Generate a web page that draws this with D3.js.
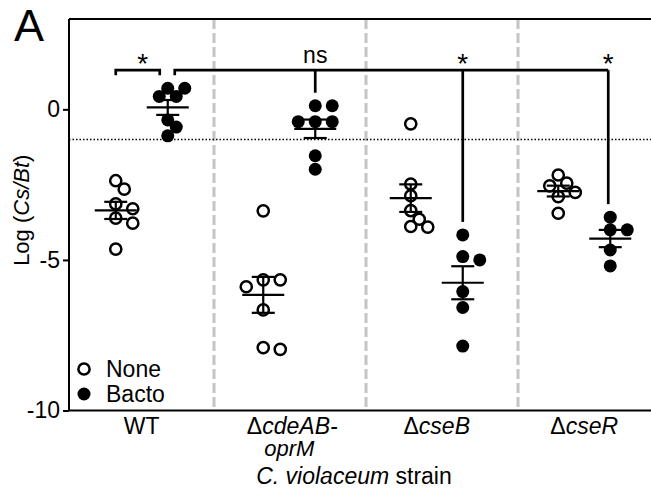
<!DOCTYPE html>
<html><head><meta charset="utf-8">
<script src="https://cdn.jsdelivr.net/npm/d3@7"></script>
<style>body{margin:0;background:#fff} text{font-family:"Liberation Sans",Arial,sans-serif;fill:#000}</style>
</head><body><svg id="c" width="651" height="495"></svg>
<script>
const groups = ["WT","ΔcdeAB-oprM","ΔcseB","ΔcseR"];
const treatments = ["None","Bacto"];
const noneValues = [
  [-2.37,-2.65,-3.14,-3.30,-3.61,-3.78,-4.64],
  [-3.37,-5.66,-5.66,-5.89,-6.66,-7.97,-7.91],
  [-0.48,-2.48,-2.87,-3.36,-3.65,-3.89,-3.91],
  [-2.18,-2.45,-2.54,-2.76,-2.90,-3.45]
];
const bactoValues = [
  [0.70,0.70,0.43,0.43,-0.35,-0.59,-0.88],
  [0.12,0.12,-0.41,-0.41,-0.41,-1.54,-1.99],
  [-4.17,-4.89,-5.00,-6.05,-6.58,-7.86],
  [-3.58,-4.00,-4.00,-4.67,-5.20]
];
const yTicks = [0,-5,-10];
const yDomain = [-10,3];
const detectionLimit = -1;
const bracketLevel = 1.3;
const sigLabels = ["*","ns","*","*"]; // WT None vs Bacto; WT Bacto vs each mutant Bacto

const svg = d3.select("#c");
const W = 651, H = 495;
const mLeft = 69, mTop = 19, mBottom = 410.5;
const y = d3.scaleLinear().domain(yDomain).range([mBottom, mTop]);
const x = d3.scaleBand().domain(groups).range([68, 658]).padding(0);
const sub = d3.scalePoint().domain(treatments).range([-26, 26]);
const cx = (g,t) => x(g) + x.bandwidth()/2 + sub(t);
const sepX = d3.scaleLinear().domain([0,4]).range([62,670]);
const rOpen = 5.6, rFill = 6.5, openSW = 2.5;

// separators
svg.append("g").selectAll("line").data(d3.range(1,groups.length)).join("line")
  .attr("x1", d=>sepX(d)).attr("x2", d=>sepX(d)).attr("y1", mTop).attr("y2", mBottom)
  .attr("stroke","#c4c4c4").attr("stroke-width",3).attr("stroke-dasharray","10,4");

// detection limit
svg.append("line").attr("x1",mLeft).attr("x2",W).attr("y1",y(detectionLimit)).attr("y2",y(detectionLimit))
  .attr("stroke","#000").attr("stroke-width",1.5).attr("stroke-dasharray","1.5,2");

// frame
svg.append("line").attr("x1",mLeft).attr("x2",W).attr("y1",mTop).attr("y2",mTop).attr("stroke","#000").attr("stroke-width",2);
svg.append("line").attr("x1",mLeft).attr("x2",W).attr("y1",mBottom).attr("y2",mBottom).attr("stroke","#000").attr("stroke-width",2);

// y axis
const ya = svg.append("g").attr("transform",`translate(${mLeft},0)`)
  .call(d3.axisLeft(y).tickValues(yTicks).tickSize(6).tickPadding(3).tickFormat(d=>String(d)));
ya.select(".domain").attr("stroke-width",2).attr("d",`M0,${mTop}V${mBottom}`);
ya.selectAll(".tick line").attr("stroke-width",2);
ya.selectAll("text").style("font-size","23px").style("font-family","Liberation Sans, Arial, sans-serif");

// swarm
function swarm(vals, c) {
  const pts = vals.map(v=>({v, y:y(v)})).sort((a,b)=>a.y-b.y);
  const placed = [];
  const D = 11, step = 8.5;
  pts.forEach(p=>{
    for (let k=0;k<30;k++){
      const off = k===0?0:(k%2?1:-1)*Math.ceil(k/2)*step;
      if (placed.every(q=>Math.hypot(q.x-(c+off), q.y-p.y)>=D)) { p.x=c+off; break; }
    }
    placed.push(p);
  });
  return placed;
}

const series = [];
groups.forEach((g,i)=>{
  series.push({g, t:"None", vals:noneValues[i]});
  series.push({g, t:"Bacto", vals:bactoValues[i]});
});

series.forEach(s=>{
  const c = cx(s.g,s.t);
  const m = d3.mean(s.vals);
  const sem = d3.deviation(s.vals)/Math.sqrt(s.vals.length);
  const gg = svg.append("g");
  gg.append("line").attr("x1",c-21).attr("x2",c+21).attr("y1",y(m)).attr("y2",y(m)).attr("stroke","#000").attr("stroke-width",2.2);
  gg.append("line").attr("x1",c).attr("x2",c).attr("y1",y(m-sem)).attr("y2",y(m+sem)).attr("stroke","#000").attr("stroke-width",2.2);
  [m-sem,m+sem].forEach(v=>gg.append("line").attr("x1",c-11.5).attr("x2",c+11.5).attr("y1",y(v)).attr("y2",y(v)).attr("stroke","#000").attr("stroke-width",2.2));
  const pts = swarm(s.vals, c);
  gg.selectAll("circle").data(pts).join("circle")
    .attr("cx",d=>d.x).attr("cy",d=>d.y)
    .attr("r", s.t==="None"?rOpen:rFill)
    .attr("fill", s.t==="None"?"none":"#000")
    .attr("stroke", s.t==="None"?"#000":"none")
    .attr("stroke-width",openSW);
});

// significance brackets
const by = y(bracketLevel);
const br = svg.append("g").attr("fill","none").attr("stroke","#000").attr("stroke-width",2.7);
const wtN = cx(groups[0],"None"), wtB = cx(groups[0],"Bacto");
br.append("path").attr("d",`M${wtN},${by+5}V${by}H${wtB-8}V${by+5}`);
const lastB = cx(groups[groups.length-1],"Bacto") - 2;
br.append("path").attr("d",`M${wtB+7},${by+5}V${by}H${lastB}`);
groups.slice(1).forEach((g,i)=>{
  const bx = i===groups.length-2 ? lastB : cx(g,"Bacto");
  const endY = y(d3.max(bactoValues[i+1])) - 13;
  br.append("line").attr("x1",bx).attr("x2",bx).attr("y1",by).attr("y2",endY);
});
const sigG = svg.append("g");
sigG.append("text").attr("x",(wtN+wtB)/2+1).attr("y",by+3).attr("text-anchor","middle").style("font-size","28px").text(sigLabels[0]);
groups.slice(1).forEach((g,i)=>{
  const bx = i===groups.length-2 ? lastB : cx(g,"Bacto");
  const lab = sigLabels[i+1];
  sigG.append("text").attr("x",bx).attr("y", lab==="ns"? by-7 : by+3).attr("text-anchor","middle")
    .style("font-size", lab==="ns"?"23px":"28px").text(lab);
});

// x labels
const xl = svg.append("g").style("font-size","23px");
groups.forEach(g=>{
  const c = x(g)+x.bandwidth()/2;
  if (g==="WT") {
    xl.append("text").attr("x",c).attr("y",434).attr("text-anchor","middle").text(g);
  } else if (g.indexOf("-")>0) {
    const parts = g.split("-");
    const t1 = xl.append("text").attr("x",c+3).attr("y",434).attr("text-anchor","middle");
    t1.append("tspan").text("Δ");
    t1.append("tspan").style("font-style","italic").text(parts[0].slice(1)+"-");
    xl.append("text").attr("x",c).attr("y",456).attr("text-anchor","middle").style("font-style","italic").style("font-size","22px").text(parts[1]);
  } else {
    const t1 = xl.append("text").attr("x",c).attr("y",434).attr("text-anchor","middle");
    t1.append("tspan").text("Δ");
    t1.append("tspan").style("font-style","italic").text(g.slice(1));
  }
});
const title = svg.append("text").attr("x",(x(groups[0])+x.range()[1])/2-9).attr("y",484).attr("text-anchor","middle").style("font-size","23px");
title.append("tspan").style("font-style","italic").text("C. violaceum");
title.append("tspan").text(" strain");

// y label
const yl = svg.append("text").attr("transform",`translate(29,${y(-3.35)}) rotate(-90)`).attr("text-anchor","middle").style("font-size","22px");
yl.append("tspan").text("Log (");
yl.append("tspan").style("font-style","italic").text("Cs/Bt");
yl.append("tspan").text(")");

// panel letter
svg.append("text").attr("x",14).attr("y",41).style("font-size","45px").text("A");

// legend
const lg = svg.append("g");
treatments.forEach((t,i)=>{
  const ly = 369 + i*25;
  lg.append("circle").attr("cx",84).attr("cy",ly).attr("r", t==="None"?rOpen:rFill)
    .attr("fill", t==="None"?"none":"#000").attr("stroke", t==="None"?"#000":"none").attr("stroke-width",openSW);
  lg.append("text").attr("x",106).attr("y",ly).attr("dy","0.35em").style("font-size","23px").text(t);
});
</script></body></html>
